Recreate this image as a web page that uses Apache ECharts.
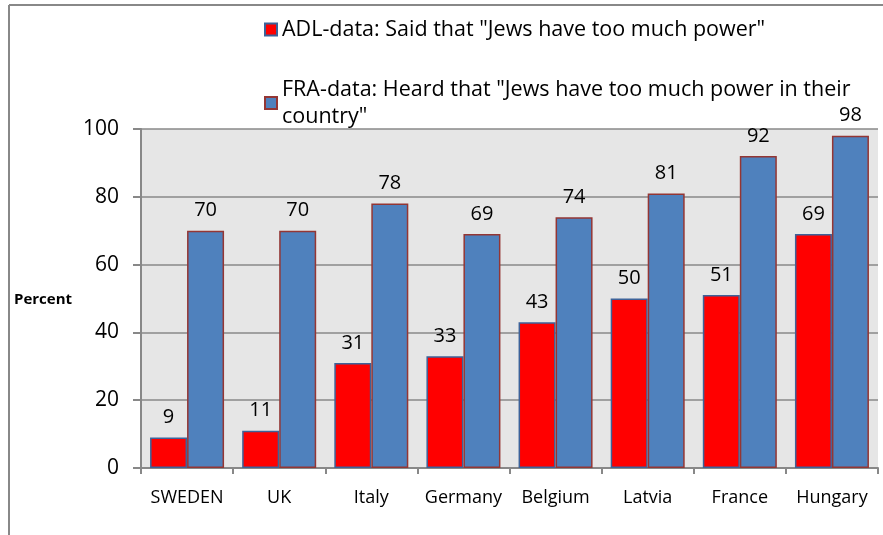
<!DOCTYPE html>
<html>
<head>
<meta charset="utf-8">
<script src="https://cdn.jsdelivr.net/npm/echarts@6/dist/echarts.min.js"></script>
<style>
  html, body { margin: 0; padding: 0; background: #fff; }
  #chart { width: 883px; height: 535px; }
</style>
</head>
<body>
<div id="chart"></div>
<script>
const countries = ["SWEDEN", "UK", "Italy", "Germany", "Belgium", "Latvia", "France", "Hungary"];
const adlValues = [9, 11, 31, 33, 43, 50, 51, 69];
const fraValues = [70, 70, 78, 69, 74, 81, 92, 98];
const adlName = 'ADL-data: Said that "Jews have too much power"';
const fraName = 'FRA-data: Heard that "Jews have too much power in their country"';

const chart = echarts.init(document.getElementById("chart"));
const font = "Open Sans";

const options = {
  animation: false,
  textStyle: { fontFamily: font },
  graphic: [
    // outer frame, only top and left visible
    { type: "line", shape: { x1: 9, y1: 5, x2: 883, y2: 5 }, style: { stroke: "#888", lineWidth: 2 } },
    { type: "line", shape: { x1: 9, y1: 5, x2: 9, y2: 535 }, style: { stroke: "#888", lineWidth: 2 } },
    {
      type: "text", left: 14, top: 292,
      style: { text: "Percent", font: "bold 15px " + font, fill: "#000" },
    },
  ],
  legend: {
    orient: "vertical",
    left: 259,
    top: 11,
    itemWidth: 12,
    itemHeight: 12,
    itemGap: 33,
    icon: "rect",
    data: [adlName, fraName],
    formatter: function (name) {
      return name === fraName
        ? 'FRA-data: Heard that "Jews have too much power in their\ncountry"'
        : name;
    },
    textStyle: { fontSize: 21.5, lineHeight: 27, color: "#000", fontFamily: font },
  },
  grid: {
    left: 141,
    right: 5,
    top: 129,
    bottom: 67,
    show: true,
    backgroundColor: "#e6e6e6",
    borderWidth: 0,
  },
  xAxis: {
    type: "category",
    data: countries,
    axisLine: { lineStyle: { color: "#888", width: 2 } },
    axisTick: { show: true, length: 6, lineStyle: { color: "#888", width: 2 } },
    axisLabel: { fontSize: 18, color: "#000", margin: 21, interval: 0 },
  },
  yAxis: {
    type: "value",
    min: 0,
    max: 100,
    interval: 20,
    axisLine: { show: true, lineStyle: { color: "#888", width: 2 } },
    axisTick: { show: true, length: 8, lineStyle: { color: "#888", width: 2 } },
    axisLabel: { fontSize: 21, color: "#000", margin: 22 },
    splitLine: { lineStyle: { color: "#888", width: 1.5 } },
  },
  series: [
    {
      name: adlName,
      type: "bar",
      data: adlValues,
      barWidth: 37,
      barGap: "0%",
      itemStyle: { color: "#ff0000", borderColor: "#3d6299", borderWidth: 1.5 },
      label: { show: true, position: "top", distance: 10, fontSize: 20, color: "#000" },
    },
    {
      name: fraName,
      type: "bar",
      data: fraValues,
      barWidth: 37,
      barGap: "0%",
      itemStyle: { color: "#4f81bd", borderColor: "#943634", borderWidth: 1.5 },
      label: { show: true, position: "top", distance: 10, fontSize: 20, color: "#000" },
    },
  ],
};

chart.setOption(options);
</script>
</body>
</html>
